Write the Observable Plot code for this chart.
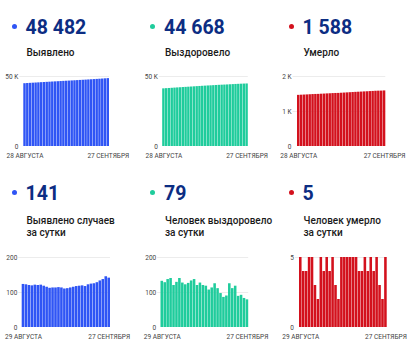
<!DOCTYPE html>
<html><head><meta charset="utf-8">
<script src="https://cdn.jsdelivr.net/npm/d3@7"></script>
<script src="https://cdn.jsdelivr.net/npm/@observablehq/plot@0.6"></script>
<style>
body{margin:0;background:#fff;font-family:Roboto,sans-serif;}
#root{position:relative;width:418px;height:352px;overflow:hidden;background:#fff;}
.dot{position:absolute;width:5px;height:5px;border-radius:50%;}
.num{position:absolute;font-weight:700;font-size:19.5px;line-height:20px;color:#0c2d83;white-space:nowrap;}
.lbl{position:absolute;font-weight:500;font-size:10px;line-height:11.5px;color:#1a1a1a;white-space:nowrap;}
.chart{position:absolute;}
.chart svg{overflow:visible;}
</style></head><body><div id="root"></div>
<script>
// ---- data ----
const topDateLabels = ["28 АВГУСТА", "27 СЕНТЯБРЯ"];   // 28 Aug .. 27 Sep (31 days)
const bottomDateLabels = ["29 АВГУСТА", "27 СЕНТЯБРЯ"]; // 29 Aug .. 27 Sep (30 days)

const confirmedTotal = [44863, 44986, 45108, 45228, 45347, 45468, 45588, 45709, 45827, 45942, 46054, 46167, 46280, 46394, 46507, 46617, 46728, 46841, 46956, 47073, 47191, 47310, 47427, 47549, 47673, 47798, 47926, 48059, 48196, 48341, 48482];
const recoveredTotal = [41186, 41318, 41446, 41583, 41723, 41843, 41972, 42112, 42239, 42361, 42487, 42620, 42757, 42877, 43004, 43124, 43242, 43349, 43462, 43587, 43698, 43795, 43881, 43971, 44096, 44207, 44325, 44414, 44506, 44589, 44668];
const deathsTotal = [1461, 1466, 1470, 1474, 1479, 1484, 1487, 1489, 1494, 1498, 1503, 1507, 1512, 1515, 1517, 1522, 1527, 1532, 1537, 1542, 1547, 1551, 1555, 1560, 1564, 1569, 1573, 1578, 1581, 1583, 1588];

const confirmedDaily = [123, 122, 120, 119, 121, 120, 121, 118, 115, 112, 113, 113, 114, 113, 110, 111, 113, 115, 117, 118, 119, 117, 122, 124, 125, 128, 133, 137, 145, 141];
const recoveredDaily = [132, 128, 137, 140, 120, 129, 140, 127, 122, 126, 133, 137, 120, 127, 120, 118, 107, 113, 125, 111, 97, 86, 90, 125, 111, 118, 89, 92, 83, 79];
const deathsDaily = [5, 4, 4, 5, 5, 3, 2, 5, 4, 5, 4, 5, 3, 2, 5, 5, 5, 5, 5, 5, 4, 4, 5, 4, 5, 4, 5, 3, 2, 5];

const headlineNumbers = ["48 482", "44 668", "1 588", "141", "79", "5"];
const headlineLabels = ["Выявлено", "Выздоровело", "Умерло", "Выявлено случаев<br>за сутки", "Человек выздоровело<br>за сутки", "Человек умерло<br>за сутки"];

const ticksTotal = [0, 50000];
const tickLabelsTotal = ["0", "50 K"];
const ticksDeathsTotal = [0, 1000, 2000];
const tickLabelsDeathsTotal = ["0", "1 K", "2 K"];
const ticksDaily = [0, 100, 200];
const tickLabelsDaily = ["0", "100", "200"];
const ticksDeathsDaily = [0, 5];
const tickLabelsDeathsDaily = ["0", "5"];

const colors = {blue: "#2f55f5", teal: "#1fcc9c", red: "#d3111d"};

// ---- layout ----
const root = document.getElementById("root");
const colX = [0, 138.5, 277];

function header(col, row, i, color) {
  const x = colX[col];
  const dy = row === 0 ? 0 : 166;
  const d = document.createElement("div");
  d.className = "dot"; d.style.background = color;
  d.style.left = (x + 11.8) + "px"; d.style.top = (24.2 + dy) + "px";
  root.appendChild(d);
  const n = document.createElement("div");
  n.className = "num"; n.textContent = headlineNumbers[i];
  n.style.left = (x + 25.5) + "px"; n.style.top = (18.2 + dy) + "px";
  root.appendChild(n);
  const l = document.createElement("div");
  l.className = "lbl"; l.innerHTML = headlineLabels[i];
  l.style.left = (x + 26.5) + "px"; l.style.top = (row === 0 ? 46.5 : 215.3) + "px";
  root.appendChild(l);
}

function chart(col, row, values, ticks, tickLabels, dateLabels, color, gx, x0, x1) {
  const w = 140;
  const n = values.length;
  const data = values.map((v, i) => ({i, v}));
  const top = row === 0 ? 64 : 246;
  const h = row === 0 ? 98 : 97;
  const svg = Plot.plot({
    width: w, height: h,
    marginLeft: x0, marginRight: w - x1,
    marginTop: row === 0 ? 12 : 11, marginBottom: 16,
    style: {fontFamily: "Roboto, sans-serif", fontSize: "6.5px", background: "transparent", overflow: "visible"},
    x: {type: "band", domain: d3.range(n), round: false, paddingInner: 0.13, paddingOuter: 0, axis: null},
    y: {domain: [0, ticks[ticks.length - 1]], axis: null},
    marks: [
      Plot.ruleY(ticks.slice(1), {stroke: "#ececec", strokeWidth: 1, insetLeft: -(x0 - gx)}),
      Plot.barY(data, {x: "i", y: "v", fill: color}),
      Plot.text(ticks, {y: d => d, frameAnchor: "left", textAnchor: "end", dx: -(x0 - gx) - 1.5, fill: "#444",
        text: (d, j) => tickLabels[j]}),
      Plot.text([0, n - 1], {x: d => d, frameAnchor: "bottom", lineAnchor: "top", dy: 6.5, fill: "#444",
        text: (d, j) => dateLabels[j]})
    ]
  });
  const wrap = document.createElement("div");
  wrap.className = "chart";
  wrap.style.left = colX[col] + "px"; wrap.style.top = top + "px";
  wrap.appendChild(svg);
  root.appendChild(wrap);
}

header(0, 0, 0, colors.blue);
header(1, 0, 1, colors.teal);
header(2, 0, 2, colors.red);
header(0, 1, 3, colors.blue);
header(1, 1, 4, colors.teal);
header(2, 1, 5, colors.red);

chart(0, 0, confirmedTotal, ticksTotal, tickLabelsTotal, topDateLabels, colors.blue, 19.3, 23.3, 109);
chart(1, 0, recoveredTotal, ticksTotal, tickLabelsTotal, topDateLabels, colors.teal, 19.8, 23.2, 108.8);
chart(2, 0, deathsTotal, ticksDeathsTotal, tickLabelsDeathsTotal, topDateLabels, colors.red, 15.5, 20, 108.3);
chart(0, 1, confirmedDaily, ticksDaily, tickLabelsDaily, bottomDateLabels, colors.blue, 18.3, 21.7, 110);
chart(1, 1, recoveredDaily, ticksDaily, tickLabelsDaily, bottomDateLabels, colors.teal, 18.2, 21.5, 109.2);
chart(2, 1, deathsDaily, ticksDeathsDaily, tickLabelsDeathsDaily, bottomDateLabels, colors.red, 18, 22, 109.7);
</script>
</body></html>
